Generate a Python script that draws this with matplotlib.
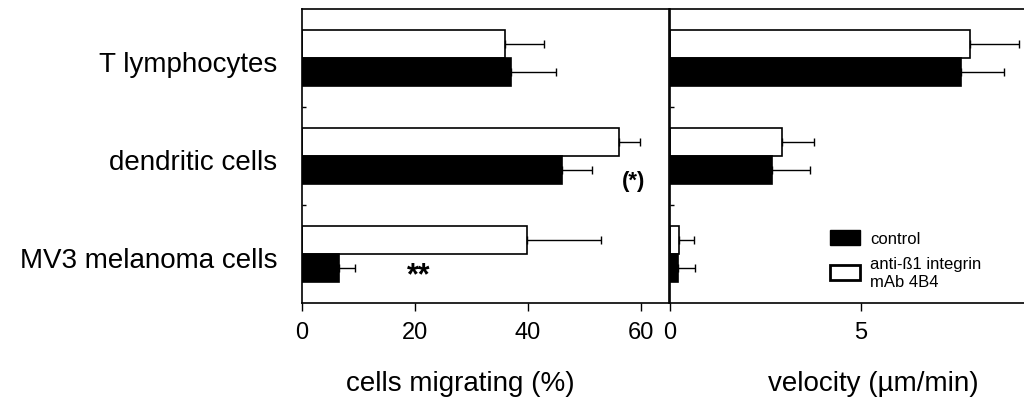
import matplotlib

matplotlib.use("Agg")
import matplotlib.pyplot as plt
import numpy as np

plt.rcParams.update({
    "font.family": ["Liberation Sans", "DejaVu Sans"],
    "axes.linewidth": 1.2,
})

# ── data ─────────────────────────────────────────────────────────────
CELLS = ["T lymphocytes", "dendritic cells", "MV3 melanoma cells"]

MIG_CTRL = [37.0, 46.1, 6.5]       # cells migrating (%)
MIG_CTRL_ERR = [7.9, 5.3, 2.9]
MIG_AB = [36.0, 56.2, 39.9]
MIG_AB_ERR = [6.9, 3.7, 13.0]

VEL_CTRL = [7.63, 2.68, 0.22]      # velocity (µm/min)
VEL_CTRL_ERR = [1.11, 0.99, 0.43]
VEL_AB = [7.85, 2.94, 0.24]
VEL_AB_ERR = [1.29, 0.82, 0.40]

MIG_TICKS = [0, 20, 40, 60]
VEL_TICKS = [0, 5]

W, H = 1024, 410
BAR_H = 0.29


def panel(ax, ctrl, ctrl_err, ab, ab_err, xlim, ticks):
    y = np.arange(len(CELLS))
    ekw = dict(elinewidth=1.0, capthick=1.0)
    ax.barh(y - BAR_H / 2, ab, height=BAR_H, color="white", edgecolor="black",
            linewidth=1.2, xerr=[np.zeros(len(ab)), ab_err], capsize=3,
            error_kw=ekw, zorder=2)
    ax.barh(y + BAR_H / 2, ctrl, height=BAR_H, color="black", edgecolor="black",
            linewidth=1.2, xerr=[np.zeros(len(ctrl)), ctrl_err], capsize=3,
            error_kw=ekw, zorder=2)
    ax.set_xlim(*xlim)
    ax.set_ylim(len(CELLS) - 0.5, -0.5)
    ax.set_xticks(ticks)
    ax.tick_params(axis="x", direction="out", length=6, width=1.0,
                   labelsize=17, pad=7)
    ax.set_yticks([0.5, 1.5])
    ax.set_yticklabels([])
    ax.tick_params(axis="y", direction="in", length=3, width=1.0)


fig = plt.figure(figsize=(W / 100, H / 100), dpi=100)
ax1 = fig.add_axes([302 / W, 1 - 304 / H, 367 / W, 294 / H])
ax2 = fig.add_axes([670 / W, 1 - 304 / H, 354 / W, 294 / H])

panel(ax1, MIG_CTRL, MIG_CTRL_ERR, MIG_AB, MIG_AB_ERR, (0, 65.0), MIG_TICKS)
panel(ax2, VEL_CTRL, VEL_CTRL_ERR, VEL_AB, VEL_AB_ERR, (0, 9.27), VEL_TICKS)
ax2.spines["right"].set_visible(False)

for i, name in enumerate(CELLS):
    ax1.annotate(name, xy=(0, i), xycoords=("axes fraction", "data"),
                 xytext=(-18, -4.5), textcoords="offset points",
                 ha="right", va="center", fontsize=20)

# significance marks
ax1.text(58.8, 1.25, "(*)", ha="center", va="center", fontsize=16,
         fontweight="bold")
ax1.text(20.7, 2.215, "**", ha="center", va="center", fontsize=22,
         fontweight="bold")

fig.text(460 / W, 1 - 384 / H, "cells migrating (%)", ha="center",
         va="center", fontsize=20)
fig.text(873 / W, 1 - 384 / H, "velocity (µm/min)", ha="center",
         va="center", fontsize=20)

ctrl_patch = matplotlib.patches.Patch(facecolor="black", edgecolor="black")
ab_patch = matplotlib.patches.Patch(facecolor="white", edgecolor="black",
                                    linewidth=2)
fig.legend([ctrl_patch, ab_patch], ["control", "anti-ß1 integrin\nmAb 4B4"],
           loc="upper left", bbox_to_anchor=(830 / W, 1 - 231 / H),
           bbox_transform=fig.transFigure, frameon=False, fontsize=12,
           borderpad=0, borderaxespad=0, handlelength=1.8, handleheight=1.0,
           handletextpad=0.6, labelspacing=0.6)

fig.savefig("out.png", dpi=100)
